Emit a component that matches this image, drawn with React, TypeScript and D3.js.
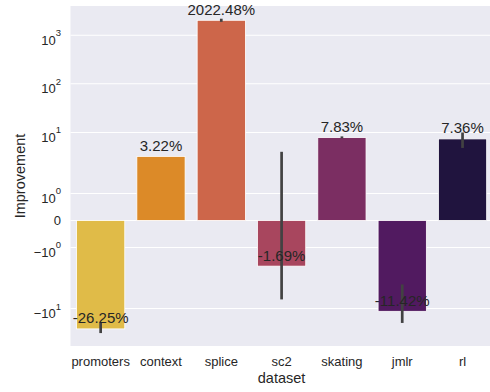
import React from "react";
import * as d3 from "d3";

// dataset names, mean improvement (%) and error-bar bounds
const categories = ["promoters", "context", "splice", "sc2", "skating", "jmlr", "rl"];
const improvement = [-26.25, 3.22, 2022.48, -1.69, 7.83, -11.42, 7.36];
const ciLow = [-32, 3.22, 1880, -6.5, 7.55, -19.8, 4.8];
const ciHigh = [-19.5, 3.22, 2180, 4.0, 8.3, -3.2, 10.0];
const barColors = ["#e0bb48", "#dc8a28", "#cd664a", "#a8465e", "#7b2e62", "#511a60", "#20143e"];
const yTicks = [1000, 100, 10, 1, 0, -1, -10];

const W = 490;
const H = 392;
const margin = { top: 6, left: 70.5, right: -2.7, bottom: 46 };

// matplotlib-style symlog, linthresh 2, linscale 1, base 10
const linthresh = 2;
const linscaleAdj = 1 / (1 - 1 / 10);
const symlog = (v: number) => {
  const a = Math.abs(v);
  if (a <= linthresh) return v * linscaleAdj;
  return Math.sign(v) * linthresh * (linscaleAdj + Math.log10(a / linthresh));
};

const font = "'Liberation Sans', Arial, sans-serif";
const textColor = "#262626";

const App: React.FC = () => {
  const innerW = W - margin.left - margin.right;
  const plotBottom = H - margin.bottom;

  const x = d3
    .scaleBand()
    .domain(categories)
    .range([margin.left, margin.left + innerW])
    .paddingInner(0.2)
    .paddingOuter(0.1);

  const yt = d3
    .scaleLinear()
    .domain([symlog(-59), symlog(3980)])
    .range([plotBottom, margin.top]);
  const y = (v: number) => yt(symlog(v));

  const tickLabel = (v: number) => {
    if (v === 0) return { base: "0", exp: "" };
    const e = Math.round(Math.log10(Math.abs(v)));
    return { base: (v < 0 ? "\u2212" : "") + "10", exp: String(e) };
  };

  return (
    <svg
      width={W}
      height={H}
      style={{ position: "fixed", left: 0, top: 0, background: "#fff" }}
      fontFamily={font}
    >
      <rect
        x={margin.left}
        y={margin.top}
        width={innerW}
        height={plotBottom - margin.top}
        fill="#eaeaf2"
      />
      {yTicks.map((t) => (
        <line
          key={"g" + t}
          x1={margin.left}
          x2={margin.left + innerW}
          y1={y(t)}
          y2={y(t)}
          stroke="#fff"
          strokeWidth={1.1}
        />
      ))}
      {yTicks.map((t) => {
        const lab = tickLabel(t);
        const by = y(t) + (lab.exp ? 9.5 : 4.5);
        return (
          <text
            key={"t" + t}
            x={lab.exp ? 61 : 61}
            y={by}
            textAnchor="end"
            fontSize={13}
            fill={textColor}
          >
            {lab.base}
            {lab.exp && (
              <tspan dy={-8.5} fontSize={9.5}>
                {lab.exp}
              </tspan>
            )}
          </text>
        );
      })}
      {categories.map((c, i) => {
        const v = improvement[i];
        const x0 = x(c)!;
        const y0 = y(0);
        const yv = y(v);
        return (
          <rect
            key={"b" + c}
            x={x0}
            y={Math.min(y0, yv)}
            width={x.bandwidth()}
            height={Math.abs(yv - y0)}
            fill={barColors[i]}
            stroke="#fff"
            strokeWidth={0.8}
          />
        );
      })}
      {categories.map((c, i) => {
        const cx = x(c)! + x.bandwidth() / 2;
        return (
          <line
            key={"e" + c}
            x1={cx}
            x2={cx}
            y1={y(ciLow[i])}
            y2={y(ciHigh[i])}
            stroke="#424242"
            strokeWidth={2.7}
          />
        );
      })}
      {categories.map((c, i) => {
        const cx = x(c)! + x.bandwidth() / 2;
        return (
          <text
            key={"a" + c}
            x={cx}
            y={y(improvement[i]) - 5.5}
            textAnchor="middle"
            fontSize={15}
            fill={textColor}
          >
            {improvement[i].toFixed(2) + "%"}
          </text>
        );
      })}
      {categories.map((c) => (
        <text
          key={"x" + c}
          x={x(c)! + x.bandwidth() / 2}
          y={366}
          textAnchor="middle"
          fontSize={13}
          fill={textColor}
        >
          {c}
        </text>
      ))}
      <text
        x={margin.left + innerW / 2}
        y={382.5}
        textAnchor="middle"
        fontSize={14.5}
        fill={textColor}
      >
        dataset
      </text>
      <text
        transform={`translate(24.5,${(margin.top + plotBottom) / 2}) rotate(-90)`}
        textAnchor="middle"
        fontSize={14.5}
        fill={textColor}
      >
        Improvement
      </text>
    </svg>
  );
};

export default App;
